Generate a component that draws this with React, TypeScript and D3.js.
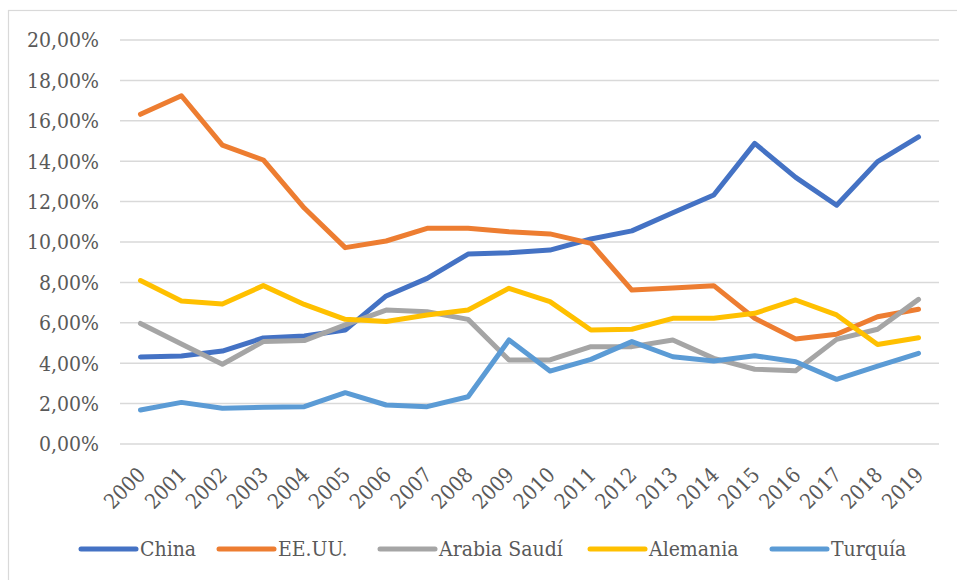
import React from "react";
import * as d3 from "d3";

const years = ["2000","2001","2002","2003","2004","2005","2006","2007","2008","2009","2010","2011","2012","2013","2014","2015","2016","2017","2018","2019"];
const china = [4.31,4.36,4.6,5.25,5.35,5.64,7.33,8.2,9.4,9.47,9.6,10.15,10.55,11.45,12.33,14.88,13.2,11.82,13.98,15.2];
const eeuu = [16.32,17.24,14.8,14.06,11.68,9.72,10.05,10.68,10.68,10.51,10.4,9.93,7.62,7.72,7.84,6.22,5.2,5.43,6.3,6.67];
const arabia = [5.97,4.95,3.95,5.07,5.12,5.9,6.63,6.55,6.17,4.16,4.16,4.82,4.82,5.15,4.24,3.7,3.63,5.18,5.68,7.16];
const alemania = [8.09,7.08,6.93,7.84,6.91,6.17,6.06,6.39,6.63,7.71,7.05,5.64,5.68,6.22,6.22,6.47,7.13,6.39,4.93,5.26];
const turquia = [1.68,2.06,1.77,1.82,1.85,2.54,1.93,1.85,2.34,5.15,3.61,4.19,5.07,4.32,4.11,4.37,4.07,3.2,3.86,4.49];
const seriesNames = ["China","EE.UU.","Arabia Saudí","Alemania","Turquía"];
const seriesValues = [china, eeuu, arabia, alemania, turquia];
const seriesColors = ["#4472C4","#ED7D31","#A5A5A5","#FFC000","#5B9BD5"];
const yTicks = [0,2,4,6,8,10,12,14,16,18,20];

const W = 957, H = 580;
const plotLeft = 120, plotRight = 939, plotTop = 40, plotBottom = 444;
const legendX = [81, 219, 380, 590, 772];
const font = "DejaVu Serif Condensed, DejaVu Serif";
const fs = 21;

export default function App() {
  const x = d3.scaleBand<string>().domain(years).range([plotLeft, plotRight]);
  const y = d3.scaleLinear().domain([0, 20]).range([plotBottom, plotTop]);
  const cx = (yr: string) => (x(yr) as number) + x.bandwidth() / 2;
  const line = d3.line<number>().x((_, i) => cx(years[i])).y((v) => y(v));
  const fmt = (v: number) => v.toFixed(2).replace(".", ",") + "%";

  return (
    <svg width={W} height={H} style={{ position: "absolute", left: 0, top: 0 }}>
      <rect x={0} y={0} width={W} height={H} fill="#fff" />
      <rect x={8.5} y={10.5} width={W + 10} height={H + 10} fill="none" stroke="#d9d9d9" strokeWidth={1.2} />
      {yTicks.map((t) => (
        <g key={t}>
          <line x1={plotLeft} x2={plotRight} y1={y(t)} y2={y(t)} stroke="#d9d9d9" strokeWidth={1.5} />
          <text x={99} y={y(t)} dy="0.35em" textAnchor="end" fontFamily={font} fontSize={fs} fill="#595959">{fmt(t)}</text>
        </g>
      ))}
      {years.map((yr) => (
        <text key={yr} transform={`translate(${cx(yr) + 1},${plotBottom + 27}) rotate(-45)`} textAnchor="end" dy="0.35em" fontFamily={font} fontSize={fs} fill="#595959">{yr}</text>
      ))}
      {seriesValues.map((vals, i) => (
        <path key={seriesNames[i]} d={line(vals) as string} fill="none" stroke={seriesColors[i]} strokeWidth={5} strokeLinecap="round" strokeLinejoin="round" />
      ))}
      {seriesNames.map((n, i) => (
        <g key={n} transform={`translate(${legendX[i]},549)`}>
          <line x1={0} x2={55} y1={0} y2={0} stroke={seriesColors[i]} strokeWidth={5} strokeLinecap="round" />
          <text x={59} y={0} dy="0.35em" fontFamily={font} fontSize={fs} fill="#595959">{n}</text>
        </g>
      ))}
    </svg>
  );
}
